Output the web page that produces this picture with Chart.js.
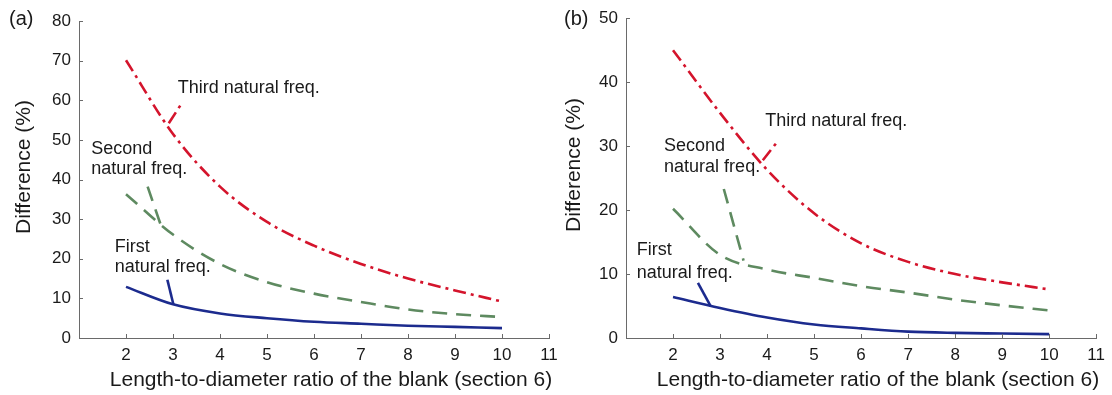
<!DOCTYPE html>
<html>
<head>
<meta charset="utf-8">
<script src="https://cdn.jsdelivr.net/npm/chart.js@4.4.1/dist/chart.umd.min.js"></script>
<style>
  body { margin: 0; background: #fff; width: 1112px; height: 395px; overflow: hidden; position: relative; }
  canvas { position: absolute; top: 0; }
  #chartA { left: 0; }
  #chartB { left: 556px; }
</style>
</head>
<body>
<canvas id="chartA" width="575" height="395"></canvas>
<canvas id="chartB" width="556" height="395"></canvas>
<script>
const lengthRatio = [2, 3, 4, 5, 6, 7, 8, 9, 10];
const xTicks = [2, 3, 4, 5, 6, 7, 8, 9, 10, 11];

// panel (a)
const firstA = [12.9, 8.5, 6.2, 5.0, 4.1, 3.6, 3.1, 2.8, 2.5];
const secondA = [36.3, 26.1, 18.7, 14.1, 11.2, 9.1, 7.2, 6.0, 5.3];
const thirdA = [70.1, 51.5, 38.2, 29.3, 23.3, 18.7, 15.0, 12.0, 9.2];

// panel (b)
const firstB = [6.4, 4.7, 3.2, 2.1, 1.5, 1.0, 0.8, 0.7, 0.6];
const secondB = [20.2, 13.0, 10.7, 9.4, 8.1, 7.1, 6.0, 5.1, 4.3];
const thirdB = [45.0, 35.2, 26.3, 19.5, 14.8, 11.9, 10.0, 8.7, 7.6];

// leader lines [x0, y0, x1, y1]
const leadersA = { first: [2.88, 14.7, 3.01, 8.4], second: [2.46, 38.2, 2.74, 28.5], third: [2.91, 54.2, 3.19, 59.3] };
const leadersB = { first: [2.53, 8.6, 2.80, 5.0], second: [3.08, 23.3, 3.50, 12.1], third: [3.91, 27.8, 4.21, 30.6] };

// annotation text [text, x, y]
const notesA = [["Third natural freq.", 3.1, 63.0], ["Second", 1.26, 47.8], ["natural freq.", 1.26, 42.7], ["First", 1.76, 23.0], ["natural freq.", 1.76, 17.8]];
const notesB = [["Third natural freq.", 3.96, 34.0], ["Second", 1.81, 30.0], ["natural freq.", 1.81, 26.7], ["First", 1.23, 13.7], ["natural freq.", 1.23, 10.2]];

const blue = "#1c2b8e";
const green = "#5e8a60";
const red = "#d4142c";
const textColor = "#1a1a1a";
const axisColor = "#6a6a6a";
const fontFamily = "'Liberation Sans', Arial, sans-serif";

const pts = ys => lengthRatio.map((x, i) => ({ x: x, y: ys[i] }));
const seg = l => [{ x: l[0], y: l[1] }, { x: l[2], y: l[3] }];

function lineSet(data, color, dash, curve) {
    return {
        data: data,
        borderColor: color,
        backgroundColor: color,
        borderWidth: 2.6,
        borderDash: dash,
        pointRadius: 0,
        tension: curve ? 0.4 : 0,
        cubicInterpolationMode: curve ? "monotone" : "default",
        fill: false
    };
}

const decorations = {
    id: "decorations",
    afterDraw(chart, args, opts) {
        const ctx = chart.ctx;
        const x = chart.scales.x, y = chart.scales.y;
        const area = chart.chartArea;
        ctx.save();
        // inward ticks
        ctx.strokeStyle = axisColor;
        ctx.lineWidth = 1;
        ctx.beginPath();
        xTicks.forEach(v => {
            const px = Math.round(x.getPixelForValue(v)) + 0.5;
            ctx.moveTo(px, area.bottom);
            ctx.lineTo(px, area.bottom - 4);
        });
        for (let v = 0; v <= y.max; v += 10) {
            const py = Math.round(y.getPixelForValue(v)) + 0.5;
            ctx.moveTo(area.left, py);
            ctx.lineTo(area.left + 4, py);
        }
        ctx.stroke();
        // annotations
        ctx.fillStyle = textColor;
        ctx.font = "18px " + fontFamily;
        ctx.textAlign = "left";
        ctx.textBaseline = "middle";
        opts.notes.forEach(n => ctx.fillText(n[0], x.getPixelForValue(n[1]), y.getPixelForValue(n[2])));
        // axis titles
        ctx.font = "21px " + fontFamily;
        ctx.textAlign = "center";
        ctx.textBaseline = "alphabetic";
        ctx.fillText("Length-to-diameter ratio of the blank (section 6)", area.left + 252, 386);
        ctx.save();
        ctx.translate(opts.yTitleX, opts.yTitleY);
        ctx.rotate(-Math.PI / 2);
        ctx.textBaseline = "middle";
        ctx.fillText("Difference (%)", 0, 0);
        ctx.restore();
        // panel letter
        ctx.textAlign = "left";
        ctx.textBaseline = "middle";
        ctx.font = "20px " + fontFamily;
        ctx.fillText(opts.letter, opts.letterX, 19);
        ctx.restore();
    }
};

function makeChart(id, series, leaders, notes, yMax, geom) {
    return new Chart(document.getElementById(id), {
        type: "scatter",
        data: {
            datasets: [
                lineSet(pts(series[0]), blue, [], true),
                lineSet(pts(series[1]), green, [15, 9], true),
                lineSet(pts(series[2]), red, [13, 5, 3, 5], true),
                lineSet(seg(leaders.first), blue, [], false),
                lineSet(seg(leaders.second), green, [15, 9], false),
                lineSet(seg(leaders.third), red, [13, 5, 3, 5], false)
            ]
        },
        options: {
            responsive: false,
            devicePixelRatio: 1,
            animation: false,
            showLine: true,
            layout: {
                padding: { top: geom.top, right: geom.right, bottom: 0, left: 0 }
            },
            plugins: {
                legend: { display: false },
                tooltip: { enabled: false },
                decorations: { notes: notes, letter: geom.letter, letterX: geom.letterX, yTitleX: geom.yTitleX, yTitleY: geom.yTitleY }
            },
            scales: {
                x: {
                    type: "linear",
                    min: 1,
                    max: 11,
                    afterFit: s => { s.height = 57; },
                    grid: { drawOnChartArea: false, drawTicks: false },
                    border: { color: axisColor, width: 1 },
                    ticks: {
                        stepSize: 1,
                        padding: 7,
                        color: textColor,
                        font: { family: fontFamily, size: 17 },
                        callback: v => (v >= 2 ? v : "")
                    }
                },
                y: {
                    min: 0,
                    max: yMax,
                    afterFit: s => { s.width = geom.left; },
                    grid: { drawOnChartArea: false, drawTicks: false },
                    border: { color: axisColor, width: 1 },
                    ticks: {
                        stepSize: 10,
                        padding: 8,
                        color: textColor,
                        font: { family: fontFamily, size: 17 }
                    }
                }
            }
        },
        plugins: [decorations]
    });
}

makeChart("chartA", [firstA, secondA, thirdA], leadersA, notesA, 80,
    { top: 21, right: 26, left: 79, letter: "(a)", letterX: 9, yTitleX: 24, yTitleY: 167 });
makeChart("chartB", [firstB, secondB, thirdB], leadersB, notesB, 50,
    { top: 16, right: 15, left: 70, letter: "(b)", letterX: 8, yTitleX: 18, yTitleY: 165 });
</script>
</body>
</html>
